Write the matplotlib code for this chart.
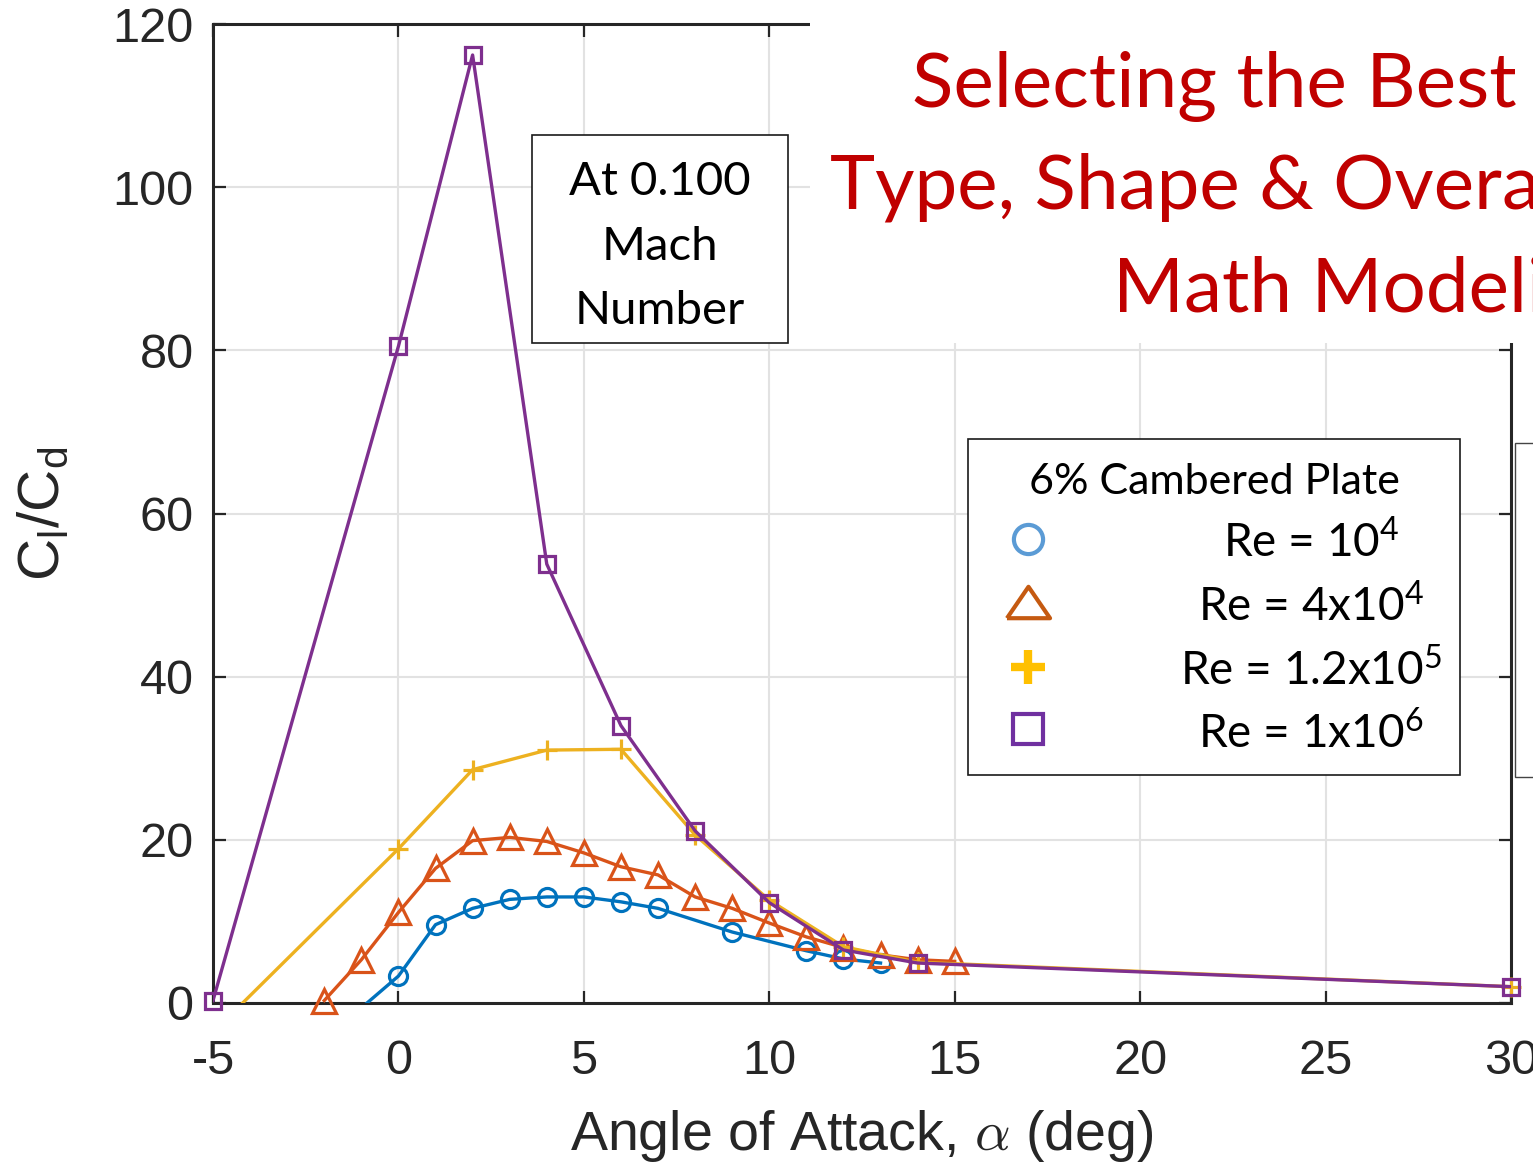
import numpy as np
import matplotlib
matplotlib.use('Agg')
import matplotlib.pyplot as plt
from matplotlib.patches import Rectangle
from matplotlib.lines import Line2D

# Cl/Cd vs angle of attack, 6% cambered plate, M = 0.1
aoa_re1e4 = [-2, 0, 1, 2, 3, 4, 5, 6, 7, 9, 11, 12, 13]
cld_re1e4 = [-4.5, 3.3, 9.6, 11.6, 12.7, 13.0, 13.0, 12.4, 11.6, 8.7, 6.4, 5.4, 4.9]

aoa_re4e4 = [-2, -1, 0, 1, 2, 3, 4, 5, 6, 7, 8, 9, 10, 11, 12, 13, 14, 15]
cld_re4e4 = [0.3, 5.3, 11.1, 16.5, 19.9, 20.3, 19.8, 18.4, 16.7, 15.7, 13.0, 11.6, 9.8,
             8.1, 6.8, 5.9, 5.3, 5.1]

aoa_re12e5 = [-5, 0, 2, 4, 6, 8, 10, 12, 14, 30]
cld_re12e5 = [-3.6, 18.9, 28.6, 31.0, 31.1, 20.6, 12.6, 6.9, 5.0, 2.0]

aoa_re1e6 = [-5, 0, 2, 4, 6, 8, 10, 12, 14, 30]
cld_re1e6 = [0.3, 80.5, 116.2, 53.8, 34.0, 21.1, 12.3, 6.5, 4.9, 2.0]

legend_title = '6% Cambered Plate'
legend_labels = [r'Re = 10$^{4}$', r'Re = 4x10$^{4}$', r'Re = 1.2x10$^{5}$', r'Re = 1x10$^{6}$']
title_lines = ['Selecting the Best Airfoil', 'Type, Shape & Overall', 'Math Modeling']
mach_lines = ['At 0.100', 'Mach', 'Number']

xticks = list(range(-5, 31, 5))
yticks = list(range(0, 121, 20))

W, H = 1533, 1162
plt.rcParams.update({
    'font.family': ['Liberation Sans', 'DejaVu Sans'],
    'axes.unicode_minus': False,
    'mathtext.fontset': 'custom',
    'mathtext.rm': 'Lato',
    'mathtext.sf': 'Liberation Sans',
    'mathtext.it': 'Lato:italic',
})
ink = '#262626'

fig = plt.figure(figsize=(W / 100, H / 100), dpi=100)
ax = fig.add_axes([213 / W, 1 - 1003 / H, 1298 / W, 979 / H])

# matlab default colors
series = [
    (aoa_re1e4, cld_re1e4, '#0072BD', 'o', 13),
    (aoa_re4e4, cld_re4e4, '#D95319', '^', 17),
    (aoa_re12e5, cld_re12e5, '#EDB120', '+', 15),
    (aoa_re1e6, cld_re1e6, '#7E2F8E', 's', 11),
]
for i, (a, v, c, m, ms) in enumerate(series):
    a = np.array(a); v = np.array(v)
    ax.plot(a, v, color=c, lw=2.4, zorder=3 + i)
    ok = v >= 0
    ax.plot(a[ok], v[ok], ls='none', marker=m, ms=ms, mfc='none', mec=c, mew=2.3,
            clip_on=False, zorder=3 + i)

ax.set_xlim(-5, 30)
ax.set_ylim(0, 120)
ax.set_xticks(xticks)
ax.set_yticks(yticks)
ax.grid(True, color='#e2e2e2', lw=1.5)
ax.set_axisbelow(True)
ax.tick_params(direction='in', length=9, width=1.6, top=True, right=True,
               labelsize=35, colors=ink)
ax.tick_params(axis='x', pad=26)
ax.tick_params(axis='y', pad=14)
for s in ax.spines.values():
    s.set_linewidth(2.2)
    s.set_color(ink)

ax.set_xlabel(r'Angle of Attack, $\alpha$ (deg)', fontsize=40, color=ink,
              math_fontfamily='cm', labelpad=17)
ax.set_ylabel(r'C$_\mathsf{l}$/C$_\mathsf{d}$', fontsize=42, color=ink, labelpad=30)

def fx(x):
    return x / W

def fy(y):
    return 1 - y / H

# white slide area with the title covering the top-right of the plot
fig.add_artist(Rectangle((fx(810), fy(343)), 1, 343 / H, transform=fig.transFigure,
                         fc='white', ec='none', zorder=5))
for txt, x0, yb in zip(title_lines, [912, 830, 1113], [107, 209, 312]):
    fig.text(fx(x0), fy(yb), txt, ha='left', va='baseline', fontsize=55,
             family='Lato', color='#C00000', zorder=6)

# mach number box
fig.add_artist(Rectangle((fx(532), fy(343)), (788 - 532) / W, (343 - 135) / H,
                         transform=fig.transFigure, fc='white', ec='#1a1a1a', lw=1.2, zorder=5))
for txt, yb in zip(mach_lines, [195, 260, 324]):
    fig.text(fx(660), fy(yb), txt, ha='center', va='baseline', fontsize=34,
             family='Lato', color='black', zorder=6)

# legend box
fig.add_artist(Rectangle((fx(968), fy(775)), (1460 - 968) / W, (775 - 439) / H,
                         transform=fig.transFigure, fc='white', ec='#1a1a1a', lw=1.2, zorder=5))
fig.text(fx(1214), fy(494), legend_title, ha='center', va='baseline', fontsize=31,
         family='Lato', color='black', zorder=6)
tri = [(-1, -0.73), (1, -0.73), (0, 0.73), (-1, -0.73)]
leg_marks = [('o', '#5B9BD5', 21, 3), (tri, '#C55A11', 31, 3),
             ('+', '#FFC000', 24, 6), ('s', '#7030A0', 21, 3)]
for (m, c, ms, mew), lab, ym, yb in zip(leg_marks, legend_labels,
                                        [539, 602, 667, 729], [557, 621, 685, 748]):
    fig.add_artist(Line2D([fx(1028)], [fy(ym)], transform=fig.transFigure, ls='none',
                          marker=m, ms=ms, mfc='none', mec=c, mew=mew, zorder=6))
    fig.text(fx(1311), fy(yb), lab, ha='center', va='baseline', fontsize=33,
             family='Lato', color='black', zorder=6)

# edge of another box on the slide
fig.add_artist(Rectangle((fx(1515), fy(777)), 40 / W, (777 - 443) / H,
                         transform=fig.transFigure, fc='white', ec='#444444', lw=1.0, zorder=5))

fig.savefig('out.png', dpi=100)
